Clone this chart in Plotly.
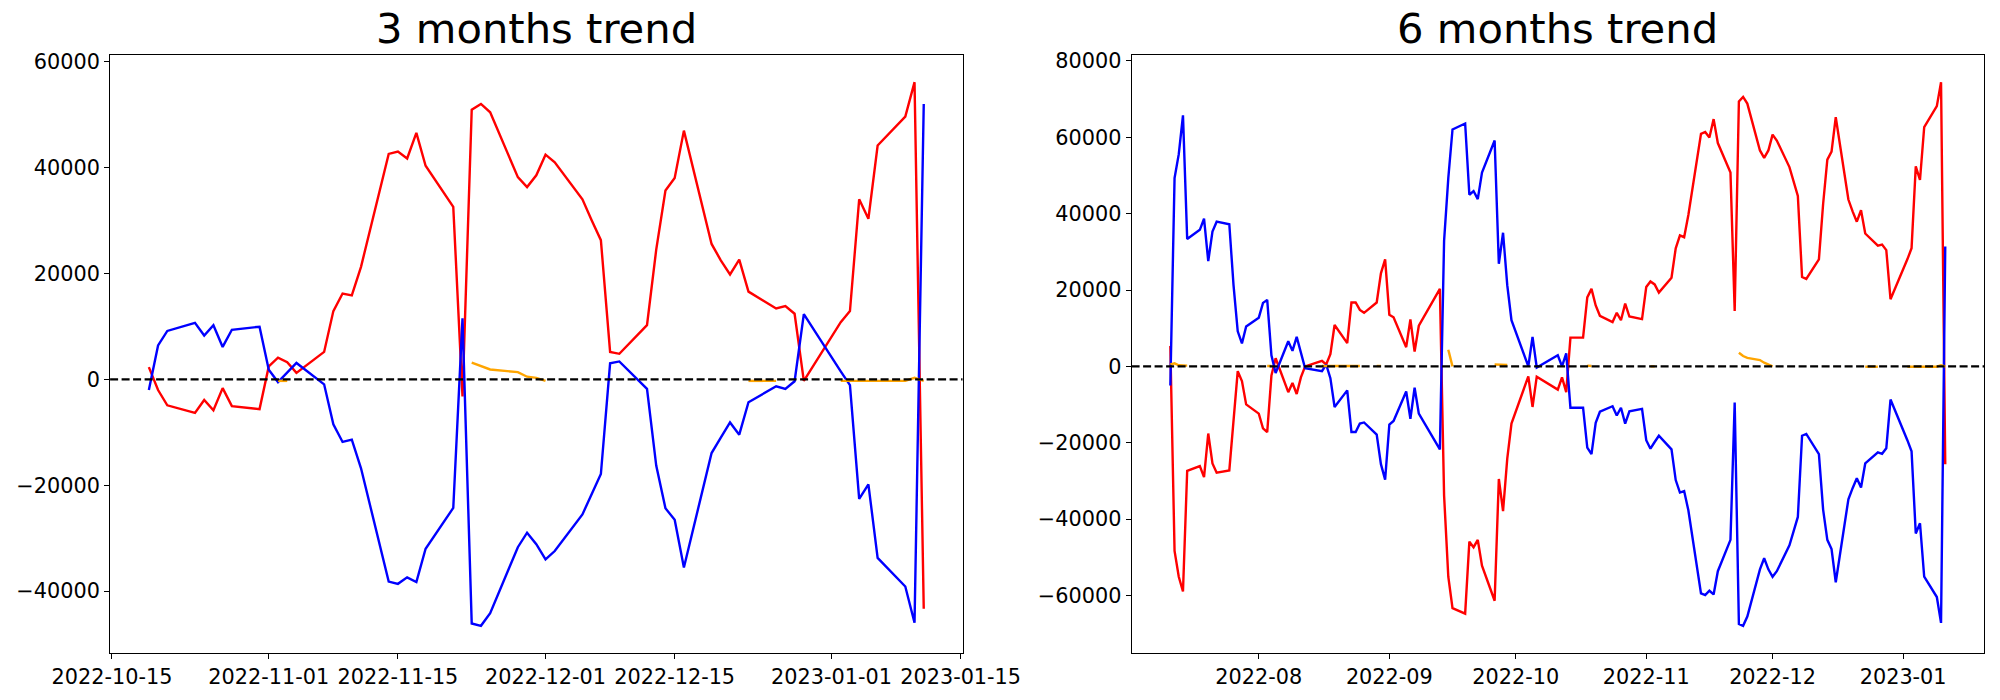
import pandas as pd
import plotly.graph_objects as go

# ---------------- 3 months data ----------------
dates_3m = [
    "2022-10-19", "2022-10-20", "2022-10-21", "2022-10-24", "2022-10-25", "2022-10-26", "2022-10-27",
    "2022-10-28", "2022-10-31", "2022-11-01", "2022-11-02", "2022-11-03", "2022-11-04", "2022-11-07",
    "2022-11-08", "2022-11-09", "2022-11-10", "2022-11-11", "2022-11-14", "2022-11-15", "2022-11-16",
    "2022-11-17", "2022-11-18", "2022-11-21", "2022-11-22", "2022-11-23", "2022-11-24", "2022-11-25",
    "2022-11-28", "2022-11-29", "2022-11-30", "2022-12-01", "2022-12-02", "2022-12-05", "2022-12-06",
    "2022-12-07", "2022-12-08", "2022-12-09", "2022-12-12", "2022-12-13", "2022-12-14", "2022-12-15",
    "2022-12-16", "2022-12-19", "2022-12-20", "2022-12-21", "2022-12-22", "2022-12-23", "2022-12-26",
    "2022-12-27", "2022-12-28", "2022-12-29", "2023-01-02", "2023-01-03", "2023-01-04", "2023-01-05",
    "2023-01-06", "2023-01-09", "2023-01-10", "2023-01-11",
]
red_3m = [
    2306, -2018, -4900, -6342, -3892, -5838, -1658,
    -5045, -5621, 2450, 4108, 3243, 1225, 5189,
    12900, 16216, 15856, 21260, 42593, 43025, 41728,
    46557, 40360, 32575, -3243, 50953, 52034, 50449,
    38197, 36323, 38557, 42449, 41008, 34017, 30053,
    26306, 5189, 4829, 10234, 24504, 35675, 38053,
    46989, 25585, 22486, 19820, 22630, 16576, 13405,
    13837, 12396, -288, 10810, 12900, 34017, 30342,
    44179, 49656, 56142, -43314,
]
blue_3m = [
    -2018, 6414, 9153, 10666, 8288, 10234, 6126,
    9369, 9946, 1802, -504, 1225, 3099, -937,
    -8504, -11820, -11387, -16792, -38197, -38629, -37404,
    -38269, -32000, -24288, 11531, -46125, -46557, -44179,
    -31711, -28972, -31134, -34017, -32432, -25513, -21693,
    -17873, 3027, 3387, -1802, -16288, -24360, -26522,
    -35531, -13911, -11027, -8144, -10450, -4324, -1297,
    -1802, -360, 12324, 1500, -1081, -22558, -19820,
    -33729, -39134, -45981, 52034,
]
# orange: separate segments, None = gap
orange_dates_3m = [
    "2022-11-02", "2022-11-03", None,
    "2022-11-23", "2022-11-24", "2022-11-25", "2022-11-28", "2022-11-29", "2022-11-30", "2022-12-01", None,
    "2022-12-23", "2022-12-26", None,
    "2023-01-02", "2023-01-03", "2023-01-04", "2023-01-05", "2023-01-06", "2023-01-09", "2023-01-10", "2023-01-11",
]
orange_3m = [
    -288, -288, None,
    3171, 2522, 1874, 1369, 504, 288, -288, None,
    -288, -288, None,
    -288, -288, -288, -288, -288, -288, 288, -288,
]

# ---------------- 6 months data ----------------
dates_6m = [
    "2022-07-11", "2022-07-12", "2022-07-13", "2022-07-14", "2022-07-15", "2022-07-18", "2022-07-19",
    "2022-07-20", "2022-07-21", "2022-07-22", "2022-07-25", "2022-07-26", "2022-07-27", "2022-07-28",
    "2022-07-29", "2022-08-01", "2022-08-02", "2022-08-03", "2022-08-04", "2022-08-05", "2022-08-08",
    "2022-08-09", "2022-08-10", "2022-08-11", "2022-08-12", "2022-08-16", "2022-08-17", "2022-08-18",
    "2022-08-19", "2022-08-22", "2022-08-23", "2022-08-24", "2022-08-25", "2022-08-26", "2022-08-29",
    "2022-08-30", "2022-08-31", "2022-09-01", "2022-09-02", "2022-09-05", "2022-09-06", "2022-09-07",
    "2022-09-08", "2022-09-13", "2022-09-14", "2022-09-15", "2022-09-16", "2022-09-19", "2022-09-20",
    "2022-09-21", "2022-09-22", "2022-09-23", "2022-09-26", "2022-09-27", "2022-09-28", "2022-09-29",
    "2022-09-30", "2022-10-04", "2022-10-05", "2022-10-06", "2022-10-11", "2022-10-12", "2022-10-13",
    "2022-10-14", "2022-10-17", "2022-10-18", "2022-10-19", "2022-10-20", "2022-10-21", "2022-10-24",
    "2022-10-25", "2022-10-26", "2022-10-27", "2022-10-28", "2022-10-31", "2022-11-01", "2022-11-02",
    "2022-11-03", "2022-11-04", "2022-11-07", "2022-11-08", "2022-11-09", "2022-11-10", "2022-11-11",
    "2022-11-14", "2022-11-15", "2022-11-16", "2022-11-17", "2022-11-18", "2022-11-21", "2022-11-22",
    "2022-11-23", "2022-11-24", "2022-11-25", "2022-11-28", "2022-11-29", "2022-11-30", "2022-12-01",
    "2022-12-02", "2022-12-05", "2022-12-06", "2022-12-07", "2022-12-08", "2022-12-09", "2022-12-12",
    "2022-12-13", "2022-12-14", "2022-12-15", "2022-12-16", "2022-12-19", "2022-12-20", "2022-12-21",
    "2022-12-22", "2022-12-23", "2022-12-26", "2022-12-27", "2022-12-28", "2022-12-29", "2023-01-02",
    "2023-01-03", "2023-01-04", "2023-01-05", "2023-01-06", "2023-01-09", "2023-01-10", "2023-01-11",
]
red_6m = [
    5317, -48335, -55102, -58969, -27358, -26101, -29001,
    -17594, -25424, -27841, -27261, -13534, -1257, -3867,
    -9957, -12374, -16241, -17207, -2417, 2127, -6767,
    -4350, -7250, -2900, 0, 1450, 483, 3190,
    10827, 6090, 16724, 16724, 14790, 14017, 16724,
    24361, 28034, 13534, 12857, 5027, 12277, 3867,
    10634, 20301, -33835, -55102, -63319, -64769, -45918,
    -47368, -45435, -52202, -61386, -29484, -37894, -24168,
    -14984, -2610, -10634, -2707, -6090, -2900, -6767,
    7540, 7540, 18077, 20301, 15951, 13244, 11600,
    14017, 12084, 16434, 13050, 12374, 20784, 22234,
    21461, 19334, 23201, 30934, 34318, 33835, 39635,
    60902, 61385, 59935, 64769, 58485, 50752, 14501,
    69409, 70569, 68829, 56552, 54619, 56552, 60709,
    59162, 52202, 48528, 44662, 23394, 22911, 28034,
    42535, 54135, 56262, 65252, 43695, 40602, 37894,
    40892, 34801, 31611, 31901, 30451, 17594, 28034,
    30934, 52395, 48818, 62642, 68152, 74436, -25618,
]
blue_6m = [
    -5000, 49302, 55586, 65736, 33351, 35768, 38668,
    27551, 35285, 37895, 37218, 21267, 9184, 5994,
    10440, 12760, 16627, 17400, 2900, -1740, 6574,
    4060, 7734, 3383, -483, -1257, 483, -3093,
    -10634, -6284, -17207, -17207, -14984, -14694, -17884,
    -25618, -29678, -15274, -14307, -6574, -13727, -5607,
    -12374, -21751, 32868, 49302, 62062, 63609, 44952,
    45918, 43792, 50752, 59162, 26874, 34995, 21267,
    12084, 0, 7734, -290, 2900, 0, 3383,
    -10827, -10827, -21267, -23007, -14790, -11890, -10440,
    -12857, -10827, -14984, -11794, -11117, -19334, -21557,
    -19817, -18174, -21751, -29774, -33061, -32674, -37701,
    -59452, -59935, -58775, -59742, -53652, -45435, -9474,
    -67476, -67959, -65542, -53169, -50268, -53169, -55102,
    -53652, -46885, -43308, -39442, -18174, -17691, -23007,
    -37508, -45435, -47852, -56552, -34801, -31901, -29291,
    -31708, -25424, -22524, -22911, -21461, -8700, -19334,
    -22234, -43792, -41085, -55102, -60419, -67186, 31418,
]
orange_dates_6m = [
    "2022-07-11", "2022-07-12", "2022-07-13", "2022-07-14", "2022-07-15", None,
    "2022-08-03", "2022-08-04", None,
    "2022-08-16", "2022-08-17", "2022-08-18", "2022-08-19", "2022-08-22", "2022-08-23", "2022-08-24",
    "2022-08-25", None,
    "2022-08-29", "2022-08-30", None,
    "2022-09-15", "2022-09-16", None,
    "2022-09-26", "2022-09-27", "2022-09-28", "2022-09-29", None,
    "2022-10-18", "2022-10-19", None,
    "2022-11-02", "2022-11-03", None,
    "2022-11-23", "2022-11-24", "2022-11-25", "2022-11-28", "2022-11-29", "2022-11-30", "2022-12-01", None,
    "2022-12-23", "2022-12-26", None,
    "2023-01-02", "2023-01-03", "2023-01-04", "2023-01-05", "2023-01-06", "2023-01-09", "2023-01-10", "2023-01-11",
]
orange_6m = [
    500, 800, 300, 200, 200, None,
    100, 100, None,
    100, 100, 100, 100, 100, 100, 100,
    100, None,
    100, 100, None,
    4350, 0, None,
    500, 500, 500, 400, None,
    200, 100, None,
    0, 0, None,
    3577, 2700, 2223, 1643, 967, 483, 0, None,
    -100, -100, None,
    -100, -100, -100, -100, -100, -100, 300, 0,
]

ticks_x_3m = ["2022-10-15", "2022-11-01", "2022-11-15", "2022-12-01", "2022-12-15", "2023-01-01", "2023-01-15"]
ticks_x_6m = ["2022-08-01", "2022-09-01", "2022-10-01", "2022-11-01", "2022-12-01", "2023-01-01"]
ticks_y_3m = [-40000, -20000, 0, 20000, 40000, 60000]
ticks_y_6m = [-60000, -40000, -20000, 0, 20000, 40000, 60000, 80000]
titles = ["3 months trend", "6 months trend"]

# ---------------- figure ----------------
# the page body has an 8px margin, so the figure is drawn 8px smaller and
# all target pixel positions are shifted by that offset
OFF = 8
W, H = 2000 - OFF, 700 - OFF
FONT = "DejaVu Sans"
LW = 2.4


def px_x(p):
    return (p - OFF) / W


def px_y(p):
    return 1 - (p - OFF) / H


def pad_range(vals, frac=0.05):
    v = [x for x in vals if x is not None]
    lo, hi = min(v), max(v)
    s = hi - lo
    return [lo - frac * s, hi + frac * s]


def date_range(ds, frac=0.05):
    t = pd.to_datetime([d for d in ds if d is not None])
    lo, hi = t.min(), t.max()
    s = hi - lo
    return [(lo - s * frac).isoformat(), (hi + s * frac).isoformat()]


fig = go.Figure()
panels = [
    (dates_3m, red_3m, blue_3m, orange_dates_3m, orange_3m, "x", "y"),
    (dates_6m, red_6m, blue_6m, orange_dates_6m, orange_6m, "x2", "y2"),
]
for d, r, b, od, o, xa, ya in panels:
    fig.add_trace(go.Scatter(x=d, y=r, mode="lines", line=dict(color="red", width=LW),
                             xaxis=xa, yaxis=ya, showlegend=False, hoverinfo="skip"))
    fig.add_trace(go.Scatter(x=d, y=b, mode="lines", line=dict(color="blue", width=LW),
                             xaxis=xa, yaxis=ya, showlegend=False, hoverinfo="skip"))
    fig.add_trace(go.Scatter(x=od, y=o, mode="lines", line=dict(color="orange", width=LW),
                             xaxis=xa, yaxis=ya, showlegend=False, hoverinfo="skip",
                             connectgaps=False))

ytop = px_y(55)
ybot = px_y(653)
dom1 = [px_x(110.1), px_x(962.5)]
dom2 = [px_x(1131.6), px_x(1984.0)]

axis_common = dict(
    showline=True, linecolor="black", linewidth=1.1, mirror=True,
    ticks="outside", ticklen=5, tickwidth=1.1, tickcolor="black",
    showgrid=False, zeroline=False, automargin=False,
    tickfont=dict(family=FONT, size=20.8, color="black"),
)

yr1 = pad_range(red_3m + blue_3m + orange_3m)
yr2 = pad_range(red_6m + blue_6m + orange_6m)

fig.update_layout(
    width=W, height=H,
    paper_bgcolor="white", plot_bgcolor="white",
    margin=dict(l=0, r=0, t=0, b=0),
    xaxis=dict(domain=dom1, anchor="y", type="date", range=date_range(dates_3m),
               tickmode="array", tickvals=ticks_x_3m, tickformat="%Y-%m-%d", **axis_common),
    yaxis=dict(domain=[ybot, ytop], anchor="x", range=yr1,
               tickmode="array", tickvals=ticks_y_3m, tickformat="d", **axis_common),
    xaxis2=dict(domain=dom2, anchor="y2", type="date", range=date_range(dates_6m),
                tickmode="array", tickvals=ticks_x_6m, tickformat="%Y-%m", **axis_common),
    yaxis2=dict(domain=[ybot, ytop], anchor="x2", range=yr2,
                tickmode="array", tickvals=ticks_y_6m, tickformat="d", **axis_common),
)

for xr, yr in (("x domain", "y"), ("x2 domain", "y2")):
    fig.add_shape(type="line", xref=xr, yref=yr, x0=0, x1=1, y0=0, y1=0,
                  line=dict(color="black", width=2.2, dash="8px,3.5px"), layer="above")

for title, dom in zip(titles, (dom1, dom2)):
    fig.add_annotation(text=title, xref="paper", yref="paper",
                       x=(dom[0] + dom[1]) / 2, y=ytop, xanchor="center", yanchor="bottom",
                       yshift=0, showarrow=False,
                       font=dict(family=FONT, size=41.7, color="black"))

fig.write_html("out.html")
